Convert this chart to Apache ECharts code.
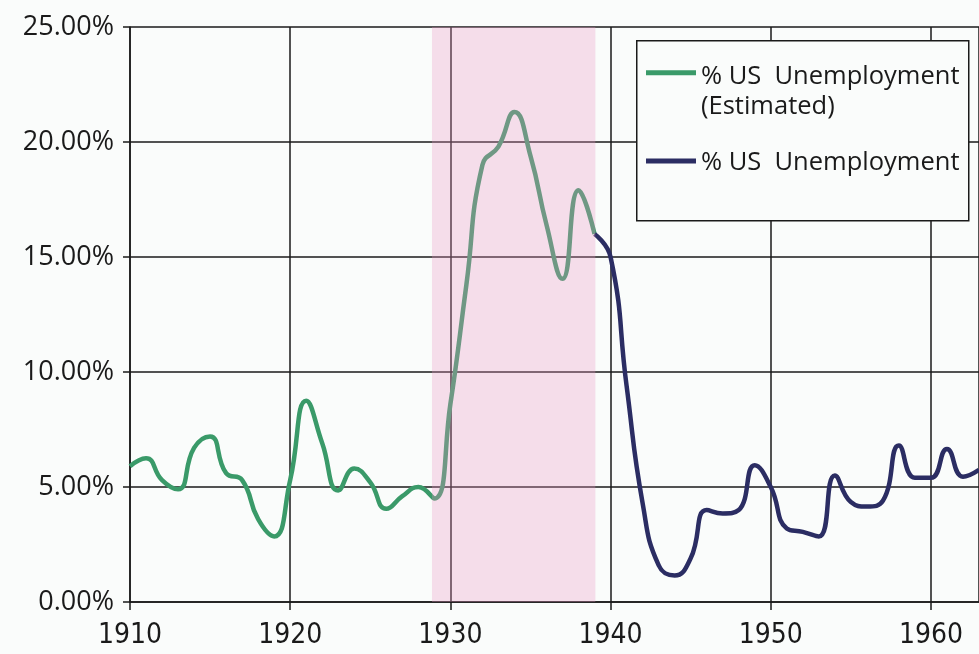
<!DOCTYPE html>
<html>
<head>
<meta charset="utf-8">
<script src="https://cdn.jsdelivr.net/npm/echarts@6/dist/echarts.min.js"></script>
<style>
  html, body { margin: 0; padding: 0; background: #fafcfb; }
  #main { width: 979px; height: 654px; }
</style>
</head>
<body>
<div id="main"></div>
<script>
// estimated series 1910-1939, measured series 1939-1963 (values in %)
var estYears = [1910, 1911, 1912, 1913, 1914, 1915, 1916, 1917, 1918, 1919,
  1920, 1921, 1922, 1923, 1924, 1925, 1926, 1927, 1928, 1929,
  1930, 1931, 1932, 1933, 1934, 1935, 1936, 1937, 1938, 1939];
var estValues = [5.9, 6.25, 5.3, 4.9, 6.7, 7.2, 5.6, 5.3, 3.6, 2.85,
  5.3, 8.75, 6.9, 4.85, 5.8, 5.2, 4.05, 4.6, 5.0, 4.5,
  8.6, 13.8, 19.0, 19.8, 21.3, 19.4, 16.4, 14.05, 17.9, 16.0];

var usYears = [1939, 1940, 1941, 1942, 1943, 1944, 1945, 1946, 1947, 1948,
  1949, 1950, 1951, 1952, 1953, 1954, 1955, 1956, 1957, 1958,
  1959, 1960, 1961, 1962, 1963];
var usValues = [16.0, 15.0, 9.4, 4.3, 1.6, 1.15, 1.9, 4.0, 3.85, 4.0,
  5.95, 5.0, 3.2, 3.05, 2.85, 5.5, 4.35, 4.15, 4.4, 6.8,
  5.4, 5.4, 6.65, 5.45, 5.75];

var depression = [1928.85, 1939.05];

var estName = '% US  Unemployment\n(Estimated)';
var usName = '% US  Unemployment';

// legend bars: 50 wide, 44 tall box, bar near the top for the 2-line entry
var iconTop = 'path://M0,0.5L50,0.5L50,5.5L0,5.5Z M0,43.9L0.1,43.9L0.1,44L0,44Z';
var iconMid = 'path://M0,0L0.1,0L0.1,0.1L0,0.1Z M0,17.5L50,17.5L50,22.5L0,22.5Z M0,43.9L0.1,43.9L0.1,44L0,44Z';

function pairs(xs, ys) {
  return xs.map(function (x, i) { return [x, ys[i]]; });
}

var chart = echarts.init(document.getElementById('main'));

var option = {
  backgroundColor: '#fafcfb',
  animation: false,
  grid: {
    left: 130,
    top: 27,
    right: 0,
    bottom: 52
  },
  xAxis: {
    type: 'value',
    min: 1910,
    max: 1963,
    interval: 10,
    axisLine: { lineStyle: { color: '#1a1a1a', width: 1.5 } },
    axisTick: { length: 8, lineStyle: { color: '#1a1a1a', width: 1.5 } },
    axisLabel: {
      showMaxLabel: false,
      margin: 20,
      color: '#1a1a1a',
      fontSize: 28,
      fontFamily: '"Liberation Sans Narrow", "DejaVu Sans Condensed", sans-serif',
      formatter: function (v) { return String(v); }
    },
    splitLine: { lineStyle: { color: '#1a1a1a', width: 1.5 } }
  },
  yAxis: {
    type: 'value',
    min: 0,
    max: 25,
    interval: 5,
    axisLine: { show: true, lineStyle: { color: '#1a1a1a', width: 1.5 } },
    axisTick: { show: true, length: 7, lineStyle: { color: '#1a1a1a', width: 1.5 } },
    axisLabel: {
      margin: 16,
      color: '#1a1a1a',
      fontSize: 27,
      fontFamily: '"Open Sans", sans-serif',
      formatter: function (v) { return v.toFixed(2) + '%'; }
    },
    splitLine: { lineStyle: { color: '#1a1a1a', width: 1.5 } }
  },
  legend: {
    orient: 'vertical',
    left: 641,
    top: 57,
    z: 6,
    itemWidth: 50,
    itemHeight: 44,
    itemGap: 19,
    data: [
      { name: estName, icon: iconTop },
      { name: usName, icon: iconMid }
    ],
    textStyle: {
      color: '#1a1a1a',
      fontSize: 25.5,
      lineHeight: 30,
      fontFamily: '"Open Sans", sans-serif'
    }
  },
  graphic: [{
    type: 'rect',
    left: 636,
    top: 40,
    shape: { width: 332, height: 180 },
    style: { fill: '#fafcfb', stroke: '#1a1a1a', lineWidth: 1.5 },
    z: 3
  }],
  series: [{
    name: estName,
    type: 'line',
    smooth: 0.5,
    showSymbol: false,
    symbol: 'none',
    lineStyle: { color: '#3a9a69', width: 4.5 },
    itemStyle: { color: '#3a9a69' },
    data: pairs(estYears, estValues),
    markArea: {
      silent: true,
      z: 10,
      itemStyle: { color: 'rgba(235, 150, 195, 0.3)' },
      data: [[{ xAxis: depression[0] }, { xAxis: depression[1] }]]
    }
  }, {
    name: usName,
    type: 'line',
    smooth: 0.5,
    showSymbol: false,
    symbol: 'none',
    lineStyle: { color: '#2b2d63', width: 4.5 },
    itemStyle: { color: '#2b2d63' },
    data: pairs(usYears, usValues)
  }]
};

chart.setOption(option);
</script>
</body>
</html>
